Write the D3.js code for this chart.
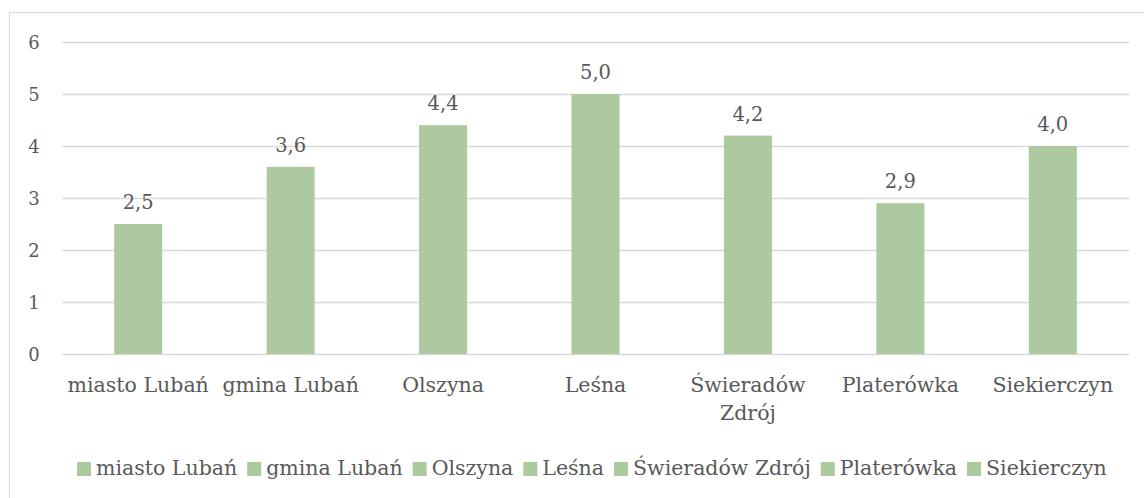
<!DOCTYPE html>
<html><head><meta charset="utf-8">
<script src="https://cdn.jsdelivr.net/npm/d3@7"></script>
<style>body{margin:0;background:#fff}text{font-family:"DejaVu Serif",serif;fill:#595959}</style>
</head><body><svg id="c" width="1144" height="498"></svg>
<script>
const categories = ["miasto Lubań","gmina Lubań","Olszyna","Leśna","Świeradów Zdrój","Platerówka","Siekierczyn"];
const values = [2.5,3.6,4.4,5.0,4.2,2.9,4.0];
const valueLabels = ["2,5","3,6","4,4","5,0","4,2","2,9","4,0"];
const yTicks = [0,1,2,3,4,5,6];

const svg = d3.select("#c");
const color = "#adc9a0";
svg.append("rect").attr("x",9.5).attr("y",12.5).attr("width",1140).attr("height",500)
  .attr("fill","none").attr("stroke","#d9d9d9");

const x = d3.scaleBand().domain(categories).range([62,1129]).paddingInner(0.685).paddingOuter(0.3425);
const y = d3.scaleLinear().domain([0,6]).range([354,42]);

const g = svg.append("g");
g.selectAll("line.grid").data(yTicks).enter().append("line")
  .attr("x1",62).attr("x2",1129).attr("y1",d=>y(d)+0.5).attr("y2",d=>y(d)+0.5)
  .attr("stroke","#d9d9d9").attr("stroke-width",1.3);
g.selectAll("text.yt").data(yTicks).enter().append("text")
  .attr("x",34).attr("y",d=>y(d)+7).attr("text-anchor","middle").attr("font-size",18).text(d=>d);

g.selectAll("rect.bar").data(values).enter().append("rect")
  .attr("x",(d,i)=>x(categories[i])).attr("width",x.bandwidth())
  .attr("y",d=>y(d)).attr("height",d=>y(0)-y(d)).attr("fill",color);

g.selectAll("text.vl").data(values).enter().append("text")
  .attr("x",(d,i)=>x(categories[i])+x.bandwidth()/2).attr("y",d=>y(d)-15)
  .attr("text-anchor","middle").attr("font-size",19.5).text((d,i)=>valueLabels[i]);

const xAxisLabels = [["miasto Lubań"],["gmina Lubań"],["Olszyna"],["Leśna"],["Świeradów","Zdrój"],["Platerówka"],["Siekierczyn"]];
categories.forEach((c,i)=>{
  const t = g.append("text").attr("text-anchor","middle").attr("font-size",20.5)
    .attr("x",x(c)+x.bandwidth()/2).attr("y",392);
  xAxisLabels[i].forEach((line,j)=>t.append("tspan").attr("x",x(c)+x.bandwidth()/2).attr("dy",j?28:0).text(line));
});

// legend
const leg = svg.append("g");
let lx = 77;
categories.forEach(c=>{
  leg.append("rect").attr("x",lx).attr("y",462).attr("width",14).attr("height",14).attr("fill",color);
  const t = leg.append("text").attr("x",lx+19).attr("y",475).attr("font-size",20.5).text(c);
  lx += 19 + t.node().getComputedTextLength() + 10;
});
</script></body></html>
